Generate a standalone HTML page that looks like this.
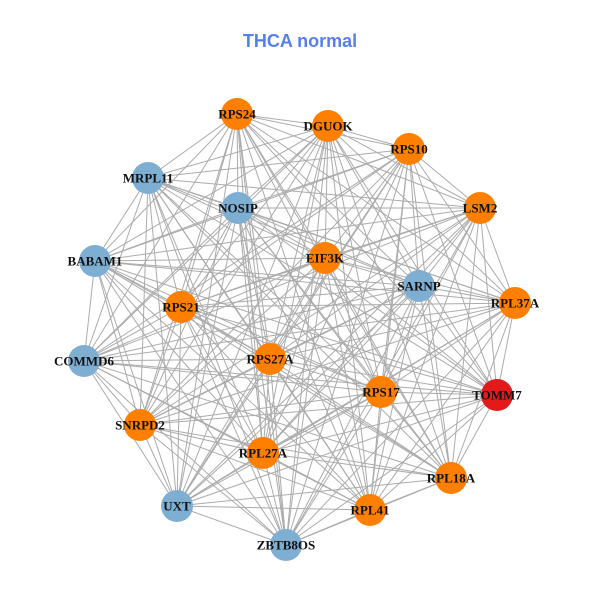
<!DOCTYPE html>
<html><head><meta charset="utf-8"><style>
html,body{margin:0;padding:0;background:#fff;width:600px;height:600px;overflow:hidden}
svg{display:block}
text.l{font-family:"Liberation Serif",serif;font-weight:bold;font-size:13px;fill:#111;text-anchor:middle;dominant-baseline:central}
</style></head><body>
<svg id="s" width="600" height="600" viewBox="0 0 600 600">
<text x="300" y="41" font-family="Liberation Sans, sans-serif" font-weight="bold" font-size="18" fill="#5580E8" text-anchor="middle" dominant-baseline="central">THCA normal</text>
<g id="e" stroke="#ababab" stroke-width="1"></g>
<g id="n">
<circle cx="237" cy="114" r="16" fill="#FF7F00"/>
<circle cx="328" cy="126" r="16" fill="#FF7F00"/>
<circle cx="409" cy="149" r="16" fill="#FF7F00"/>
<circle cx="148" cy="178" r="16" fill="#7FAED3"/>
<circle cx="238" cy="208" r="16" fill="#7FAED3"/>
<circle cx="480" cy="208" r="16" fill="#FF7F00"/>
<circle cx="95" cy="261" r="16" fill="#7FAED3"/>
<circle cx="325" cy="258" r="16" fill="#FF7F00"/>
<circle cx="419" cy="286" r="16" fill="#7FAED3"/>
<circle cx="181" cy="307" r="16" fill="#FF7F00"/>
<circle cx="515" cy="303" r="16" fill="#FF7F00"/>
<circle cx="84" cy="361" r="16" fill="#7FAED3"/>
<circle cx="270" cy="359" r="16" fill="#FF7F00"/>
<circle cx="381" cy="392" r="16" fill="#FF7F00"/>
<circle cx="497" cy="395" r="16" fill="#E31A1C"/>
<circle cx="140" cy="425" r="16" fill="#FF7F00"/>
<circle cx="263" cy="453" r="16" fill="#FF7F00"/>
<circle cx="451" cy="478" r="16" fill="#FF7F00"/>
<circle cx="177" cy="506" r="16" fill="#7FAED3"/>
<circle cx="370" cy="510" r="16" fill="#FF7F00"/>
<circle cx="286" cy="545" r="16" fill="#7FAED3"/>
</g>
<text class="l" x="237" y="114">RPS24</text>
<text class="l" x="328" y="126">DGUOK</text>
<text class="l" x="409" y="149">RPS10</text>
<text class="l" x="148" y="178">MRPL11</text>
<text class="l" x="238" y="208">NOSIP</text>
<text class="l" x="480" y="208">LSM2</text>
<text class="l" x="95" y="261">BABAM1</text>
<text class="l" x="325" y="258">EIF3K</text>
<text class="l" x="419" y="286">SARNP</text>
<text class="l" x="181" y="307">RPS21</text>
<text class="l" x="515" y="303">RPL37A</text>
<text class="l" x="84" y="361">COMMD6</text>
<text class="l" x="270" y="359">RPS27A</text>
<text class="l" x="381" y="392">RPS17</text>
<text class="l" x="497" y="395">TOMM7</text>
<text class="l" x="140" y="425">SNRPD2</text>
<text class="l" x="263" y="453">RPL27A</text>
<text class="l" x="451" y="478">RPL18A</text>
<text class="l" x="177" y="506">UXT</text>
<text class="l" x="370" y="510">RPL41</text>
<text class="l" x="286" y="545">ZBTB8OS</text>
</svg>
<script>
var c=document.querySelectorAll('#n circle'),g=document.getElementById('e'),ns='http://www.w3.org/2000/svg';
for(var i=0;i<c.length;i++)for(var j=i+1;j<c.length;j++){var l=document.createElementNS(ns,'line');
l.setAttribute('x1',c[i].getAttribute('cx'));l.setAttribute('y1',c[i].getAttribute('cy'));
l.setAttribute('x2',c[j].getAttribute('cx'));l.setAttribute('y2',c[j].getAttribute('cy'));g.appendChild(l);}
</script>
</body></html>
